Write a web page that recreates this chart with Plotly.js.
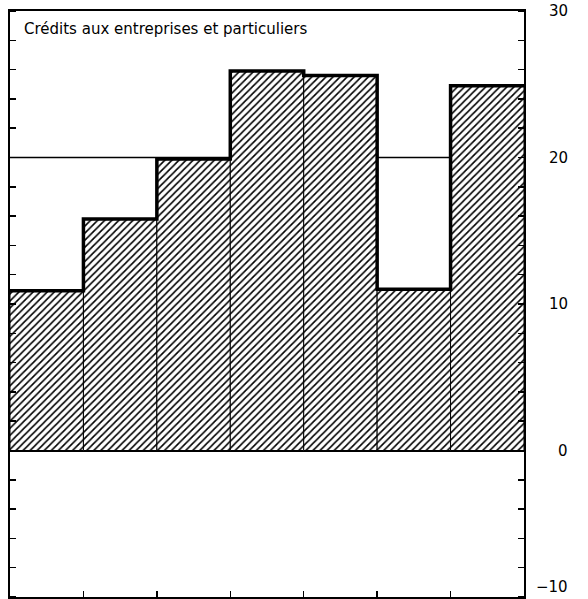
<!DOCTYPE html>
<html>
<head>
<meta charset="utf-8">
<script src="https://cdn.plot.ly/plotly-3.0.1.min.js"></script>
<style>html,body{margin:0;padding:0;background:#fff;}#chart{width:588px;height:599px;}</style>
</head>
<body>
<div id="chart"></div>
<script>
// Data
const periods = [1, 2, 3, 4, 5, 6, 7];
const values = [10.9, 15.8, 19.9, 25.9, 25.6, 11.0, 24.9];
const refLevel = [20];
const tickVals = [30, 20, 10, 0, -10];
const tickLabels = ['30', '20', '10', '0', '\u221210'];
const titleText = 'Crédits aux entreprises et particuliers';

// Derived: bar centers and step outline from the data
const centers = periods.map(p => p - 0.5);
const edgesX = periods.map(p => p - 1).concat([periods.length]);
const stepY = values.concat([values[values.length - 1]]);

const bars = {
  type: 'bar',
  x: centers,
  y: values,
  width: 1,
  marker: {
    color: 'white',
    line: {color: 'black', width: 1},
    pattern: {shape: '/', fgcolor: 'black', bgcolor: 'white', size: 5, solidity: 0.32}
  },
  hoverinfo: 'skip'
};

const outline = {
  type: 'scatter',
  mode: 'lines',
  x: edgesX,
  y: stepY,
  line: {shape: 'hv', color: 'black', width: 3.5},
  hoverinfo: 'skip'
};

const annotations = tickVals.map((v, i) => ({
  xref: 'paper', yref: 'y', x: 1, y: v,
  xanchor: 'right', yanchor: 'middle', xshift: 46,
  yshift: (v === -10 ? 10 : 0),
  text: tickLabels[i], showarrow: false,
  font: {family: 'DejaVu Sans', size: 15, color: 'black'}
}));
annotations.push({
  xref: 'paper', yref: 'paper', x: 0, y: 1,
  xanchor: 'left', yanchor: 'top', xshift: 12, yshift: -7,
  text: titleText, showarrow: false,
  font: {family: 'DejaVu Sans', size: 15, color: 'black'}
});

const layout = {
  width: 588, height: 599,
  margin: {l: 10, r: 64, t: 11, b: 2},
  paper_bgcolor: 'white', plot_bgcolor: 'white',
  showlegend: false,
  bargap: 0,
  xaxis: {
    range: [0, periods.length],
    tickvals: periods.slice(0, -1),
    ticks: 'inside', ticklen: 6, tickwidth: 1.5, tickcolor: 'black',
    showticklabels: false, showgrid: false, zeroline: false,
    showline: true, linecolor: 'black', linewidth: 2, mirror: true,
    fixedrange: true
  },
  yaxis: {
    range: [-10, 30],
    tickvals: tickVals,
    ticks: '', showticklabels: false,
    showgrid: false,
    zeroline: true, zerolinecolor: 'black', zerolinewidth: 2,
    showline: true, linecolor: 'black', linewidth: 2, mirror: 'ticks',
    minor: {dtick: 2, tick0: 0, ticks: 'inside', ticklen: 6, tickwidth: 1.5, tickcolor: 'black', showgrid: false},
    fixedrange: true
  },
  shapes: [{
    type: 'line', layer: 'below',
    xref: 'paper', x0: 0, x1: 1,
    yref: 'y', y0: refLevel[0], y1: refLevel[0],
    line: {color: 'black', width: 1.5}
  }],
  annotations: annotations
};

Plotly.newPlot('chart', [bars, outline], layout, {displayModeBar: false, staticPlot: true});
</script>
</body>
</html>
